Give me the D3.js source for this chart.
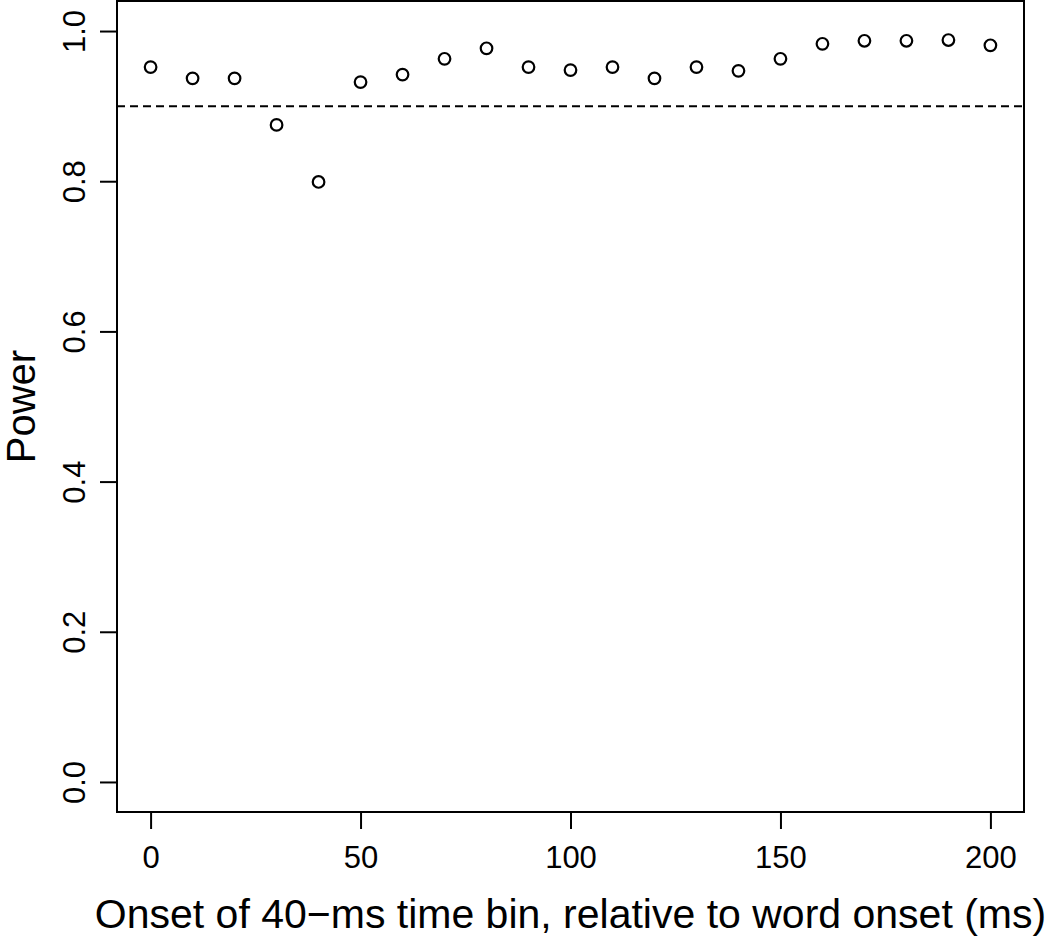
<!DOCTYPE html>
<html>
<head>
<meta charset="utf-8">
<script src="https://cdn.jsdelivr.net/npm/d3@7"></script>
<style>
  body { margin: 0; background: #fff; }
  text { font-family: "Liberation Sans", Arial, sans-serif; fill: #000; }
</style>
</head>
<body>
<svg id="chart" width="1050" height="938"></svg>
<script>
// onset of each 40-ms bin (ms) and its power
let onsets = [0, 10, 20, 30, 40, 50, 60, 70, 80, 90, 100,
              110, 120, 130, 140, 150, 160, 170, 180, 190, 200]
let power = [0.952, 0.937, 0.937, 0.875, 0.799, 0.932, 0.942, 0.963, 0.977, 0.952, 0.948,
             0.952, 0.937, 0.952, 0.947, 0.963, 0.983, 0.987, 0.987, 0.988, 0.981]
let threshold = 0.9
let xTicks = [0, 50, 100, 150, 200]
let yTicks = [0, 0.2, 0.4, 0.6, 0.8, 1.0]

let box = {left: 117, right: 1024, top: 1, bottom: 812}

function make_scales() {
  return {
    x: d3.scaleLinear().domain([-8, 208]).range([box.left, box.right]),
    y: d3.scaleLinear().domain([-0.04, 1.04]).range([box.bottom, box.top])
  }
}

function draw() {
  let svg = d3.select("#chart")
  let scales = make_scales()

  // x axis
  let xAxis = d3.axisBottom(scales.x)
    .tickValues(xTicks)
    .tickSize(17)
    .tickPadding(17)
    .tickFormat(d3.format("d"))
  let gx = svg.append("g")
    .attr("transform", `translate(0, ${box.bottom})`)
    .call(xAxis)
  gx.select(".domain").remove()
  gx.selectAll("line").attr("stroke-width", 2)
  gx.selectAll("text").attr("font-size", 31)

  // y axis, labels turned like R's default
  let yAxis = d3.axisLeft(scales.y)
    .tickValues(yTicks)
    .tickSize(17)
    .tickFormat(d3.format(".1f"))
  let gy = svg.append("g")
    .attr("transform", `translate(${box.left}, 0)`)
    .call(yAxis)
  gy.select(".domain").remove()
  gy.selectAll("line").attr("stroke-width", 2)
  gy.selectAll("text")
    .attr("font-size", 31)
    .attr("x", null).attr("dy", null)
    .attr("text-anchor", "middle")
    .attr("transform", "translate(-32, 0) rotate(-90)")

  // threshold
  svg.append("line")
    .attr("x1", box.left).attr("x2", box.right)
    .attr("y1", scales.y(threshold)).attr("y2", scales.y(threshold))
    .attr("stroke", "#000")
    .attr("stroke-width", 2)
    .attr("stroke-dasharray", "8,5")

  // points
  svg.append("g")
    .selectAll("circle")
    .data(onsets).enter()
    .append("circle")
    .attr("cx", d => scales.x(d))
    .attr("cy", (d, i) => scales.y(power[i]))
    .attr("r", 5.8)
    .attr("fill", "none")
    .attr("stroke", "#000")
    .attr("stroke-width", 2.2)

  // frame
  svg.append("rect")
    .attr("x", box.left).attr("y", box.top)
    .attr("width", box.right - box.left)
    .attr("height", box.bottom - box.top)
    .attr("fill", "none")
    .attr("stroke", "#000")
    .attr("stroke-width", 2)

  // titles
  svg.append("text")
    .attr("x", (box.left + box.right) / 2)
    .attr("y", 928)
    .attr("text-anchor", "middle")
    .attr("font-size", 41)
    .text("Onset of 40\u2212ms time bin, relative to word onset (ms)")

  svg.append("text")
    .attr("transform", `translate(35, ${(box.top + box.bottom) / 2}) rotate(-90)`)
    .attr("text-anchor", "middle")
    .attr("font-size", 40)
    .text("Power")
}

draw()
</script>
</body>
</html>
